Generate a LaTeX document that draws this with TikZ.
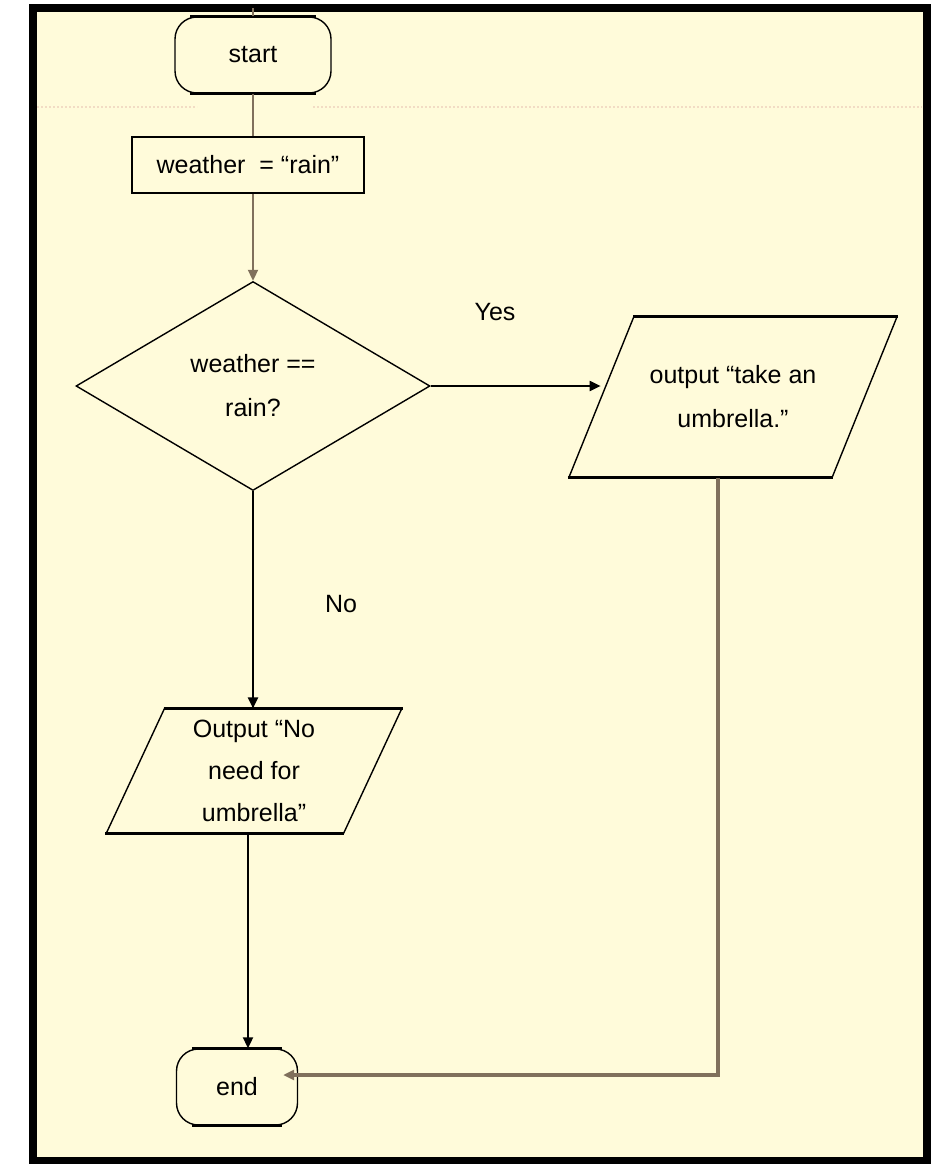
\documentclass[tikz,border=0pt]{standalone}
\usepackage{fontspec}
\setmainfont{Liberation Sans}
\usetikzlibrary{shapes.geometric,arrows.meta}
\definecolor{cream}{RGB}{255,251,218}
\definecolor{wire}{RGB}{128,112,92}
\definecolor{faint}{RGB}{242,220,196}
\begin{document}
\begin{tikzpicture}[x=1pt,y=-1pt,
  every node/.style={font=\fontsize{25}{44}\selectfont,align=center},
  term/.style={draw,line width=1.4pt,rounded corners=22pt,minimum width=156pt,minimum height=76pt},
  proc/.style={draw,line width=1.8pt,minimum width=232pt,minimum height=56pt},
  decision/.style={draw,diamond,line width=1.4pt,aspect=1.7,inner sep=0pt,minimum width=354pt,minimum height=209pt},
  io/.style={draw,trapezium,line width=1.4pt,trapezium stretches body,inner xsep=0pt},
  link/.style={line width=2pt},
  flow/.style={line width=2pt,-{Triangle[length=11pt,width=10pt]}}]
\useasboundingbox (0,0) rectangle (934,1164);
\fill[white] (0,0) rectangle (934,1164);
\draw[line width=8pt,fill=cream] (33,8) rectangle (927,1161);
\draw[faint,dotted,line width=2pt] (37,107)--(197,107) (313,107)--(922,107);
\coordinate (top) at (253,8);
\node[term] (start) at (253,55) {start};
\node[proc] (init) at (248,165) {weather\ \ = “rain”};
\node[decision] (check) at (253,386) {weather ==\\rain?};
\node[io,minimum width=328pt,inner ysep=49pt,trapezium left angle=68,trapezium right angle=112] (out1) at (733,397) {output “take an\\umbrella.”};
\node[io,minimum width=295pt,inner ysep=11pt,trapezium left angle=65,trapezium right angle=115] (out2) at (254,771) {Output “No\\[-2pt]need for\\[-2pt]umbrella”};
\node[term,minimum width=121pt] (end) at (237,1087) {end};
\node (yes) at (495,312) {Yes};
\node (no) at (341,604) {No};
% heavier top and bottom edges
\foreach \n in {out1,out2}
  \draw[line width=3pt] (\n.top left corner)--(\n.top right corner) (\n.bottom left corner)--(\n.bottom right corner);
\foreach \n in {start,end}
  \draw[line width=3pt] ([xshift=16pt]\n.north west)--([xshift=-16pt]\n.north east) ([xshift=16pt]\n.south west)--([xshift=-16pt]\n.south east);
% connectors
\draw[link,wire] (start.north)--(top);
\draw[link,wire] (start.south)--(start.south |- init.north);
\draw[flow,wire] (init.south -| check.north)--(check.north);
\draw[flow] (check.east)--(out1.west |- check.east);
\draw[flow] (check.south)--(check.south |- out2.north);
\draw[flow] ([xshift=-6pt]out2.south)--([xshift=-6pt]out2.south |- end.north);
\draw[flow,wire,line width=4pt] ([xshift=-15pt]out1.south) |- ([xshift=-15pt,yshift=12pt]end.east);
\end{tikzpicture}
\end{document}
